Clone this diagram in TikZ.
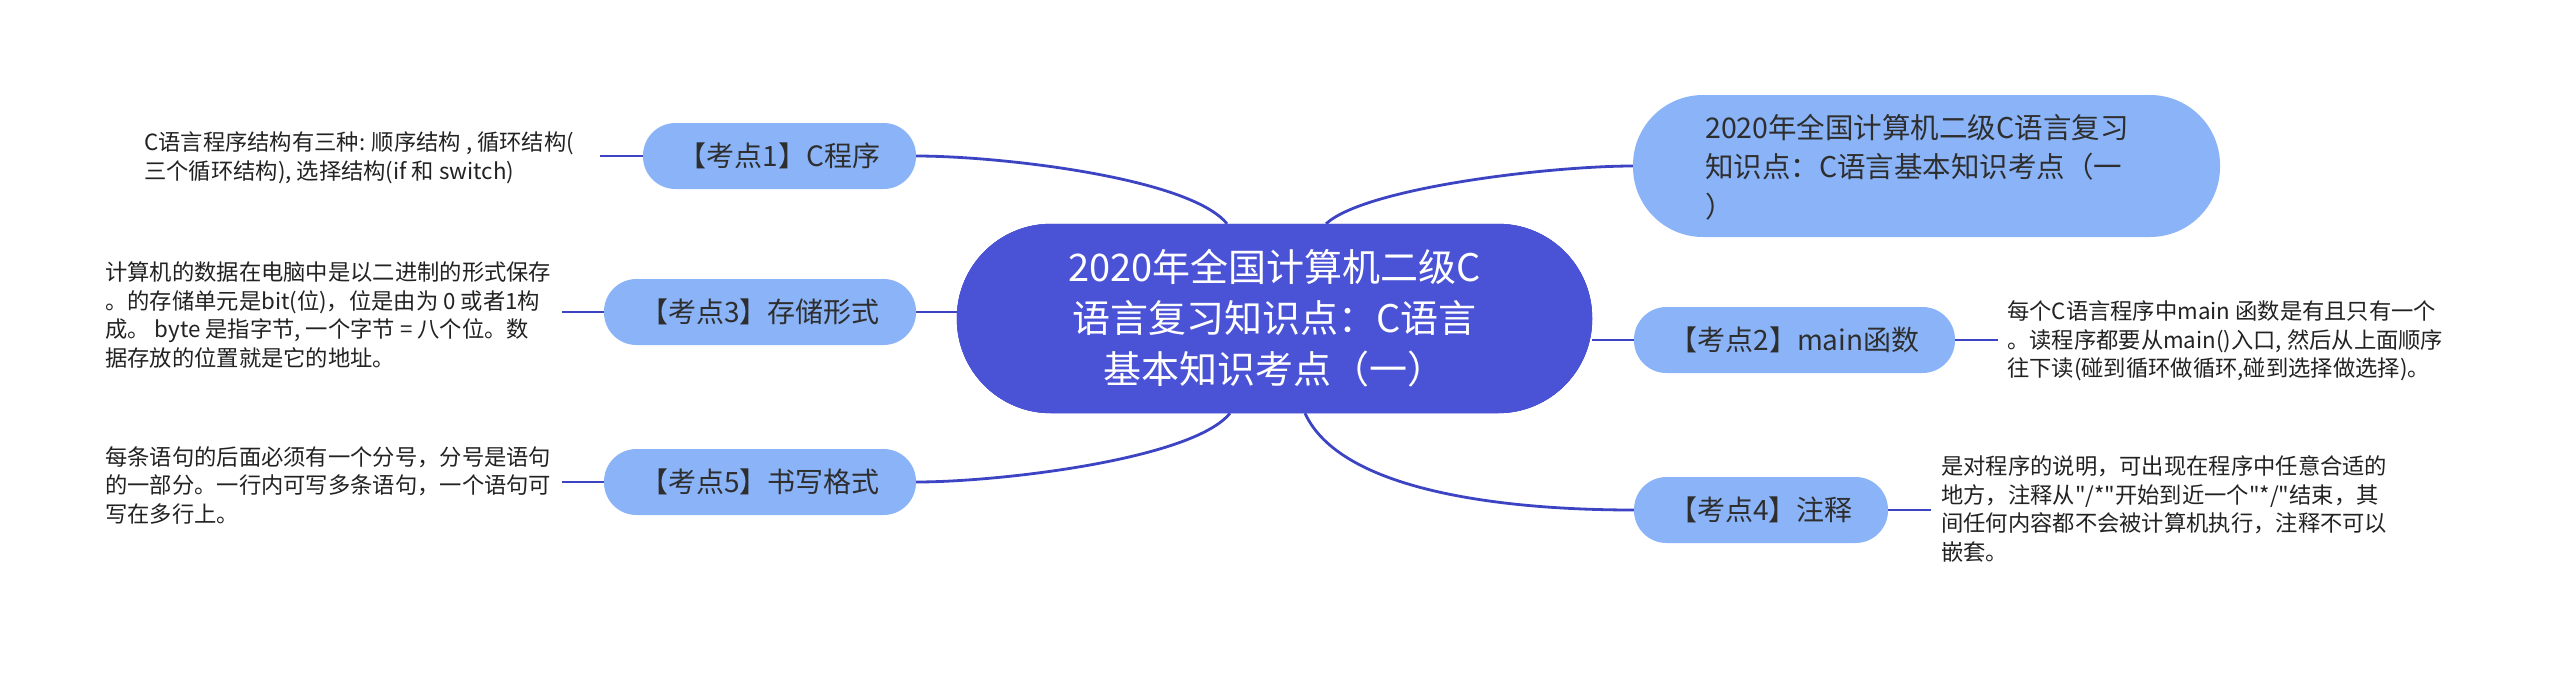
\documentclass[tikz,border=0pt]{standalone}
\usepackage{fontspec}
\setmainfont{Noto Sans CJK SC}[Ligatures=TeXOff]
\definecolor{cmain}{HTML}{4A52D6}
\definecolor{cbr}{HTML}{8BB4F8}
\definecolor{cline}{HTML}{3D44C4}
\definecolor{ctext}{HTML}{2E2E2E}
\definecolor{cdesc}{HTML}{222222}
\tikzset{
  mainbox/.style={fill=cmain, draw=cmain, text=white, rounded corners=94pt,
    minimum width=635pt, minimum height=189pt, inner sep=0pt, align=center,
    font=\fontsize{38}{51}\selectfont},
  brbox/.style={fill=cbr, text=ctext, rounded corners=32.5pt,
    minimum height=66pt, inner sep=0pt, align=center,
    font=\fontsize{28}{39.5}\selectfont},
  desc/.style={text=cdesc, anchor=west, inner sep=0pt, align=left,
    font=\fontsize{22.3}{28.5}\selectfont},
  link/.style={draw=cline, line width=2.8pt},
}
\begin{document}
\begin{tikzpicture}[x=1pt,y=-1pt]
\useasboundingbox[fill=white] (0,0) rectangle (2560,673);

% central node
\node[mainbox] (c) at (1274.5,318.5) {2020年全国计算机二级C\\语言复习知识点：C语言\\基本知识考点（一）};

% top-right node
\node[brbox, minimum width=587pt, minimum height=142pt, rounded corners=70pt] (tr) at (1926.5,166) {};
\node[text=ctext, anchor=west, inner sep=0pt, align=left, font=\fontsize{28.5}{39.5}\selectfont] (trt) at (1705,167)
  {2020年全国计算机二级C语言复习\\知识点：C语言基本知识考点（一\\）};

% branch nodes
\node[brbox, minimum width=273pt] (n1) at (779.5,156) {【考点1】C程序};
\node[brbox, minimum width=312pt] (n3) at (760,312) {【考点3】存储形式};
\node[brbox, minimum width=312pt] (n5) at (760,482) {【考点5】书写格式};
\node[brbox, minimum width=321pt] (n2) at (1794.5,340) {【考点2】main函数};
\node[brbox, minimum width=254pt] (n4) at (1761,510) {【考点4】注释};

% descriptions
\node[desc] (d1) at (144,158) {C语言程序结构有三种: 顺序结构 , 循环结构(\\三个循环结构), 选择结构(if 和 switch)};
\node[desc] (d3) at (105,315) {计算机的数据在电脑中是以二进制的形式保存\\。的存储单元是bit(位)，位是由为 0 或者1构\\成。 byte 是指字节, 一个字节 = 八个位。数\\据存放的位置就是它的地址。};
\node[desc] (d5) at (105,485) {每条语句的后面必须有一个分号，分号是语句\\的一部分。一行内可写多条语句，一个语句可\\写在多行上。};
\node[desc] (d2) at (2007,341) {每个C语言程序中main 函数是有且只有一个\\。读程序都要从main()入口, 然后从上面顺序\\往下读(碰到循环做循环,碰到选择做选择)。};
\node[desc] (d4) at (1941,509) {是对程序的说明，可出现在程序中任意合适的\\地方，注释从"/*"开始到近一个"*/"结束，其\\间任何内容都不会被计算机执行，注释不可以\\嵌套。};

% free ends of the short connectors
\coordinate (e1) at (600,156);
\coordinate (e3) at (562,312);
\coordinate (e5) at (562,482);
\coordinate (e2) at (1998,340);
\coordinate (e4) at (1931,510);

% connectors from central node
\draw[link] ([xshift=-47.5pt]c.north) .. controls +(-37,-46) and +(84,0) .. (n1.east);
\draw[link] ([xshift=-44.5pt]c.south) .. controls +(-37,46) and +(84,0) .. (n5.east);
\draw[link] (n3.east) -- (n3.east -| c.west);
\draw[link] ([xshift=51.5pt]c.north) .. controls +(39,-36) and +(-83,0) .. (tr.west);
\draw[link] (n2.west -| c.east) -- (n2.west);
\draw[link] ([xshift=30.5pt]c.south) .. controls +(35,77) and +(-134,0) .. (n4.west);

% short connectors to descriptions
\draw[link] (n1.west) -- (e1);
\draw[link] (n3.west) -- (e3);
\draw[link] (n5.west) -- (e5);
\draw[link] (n2.east) -- (e2);
\draw[link] (n4.east) -- (e4);

% redraw central node on top of connectors
\node[mainbox] at (c.center) {2020年全国计算机二级C\\语言复习知识点：C语言\\基本知识考点（一）};
\end{tikzpicture}
\end{document}
